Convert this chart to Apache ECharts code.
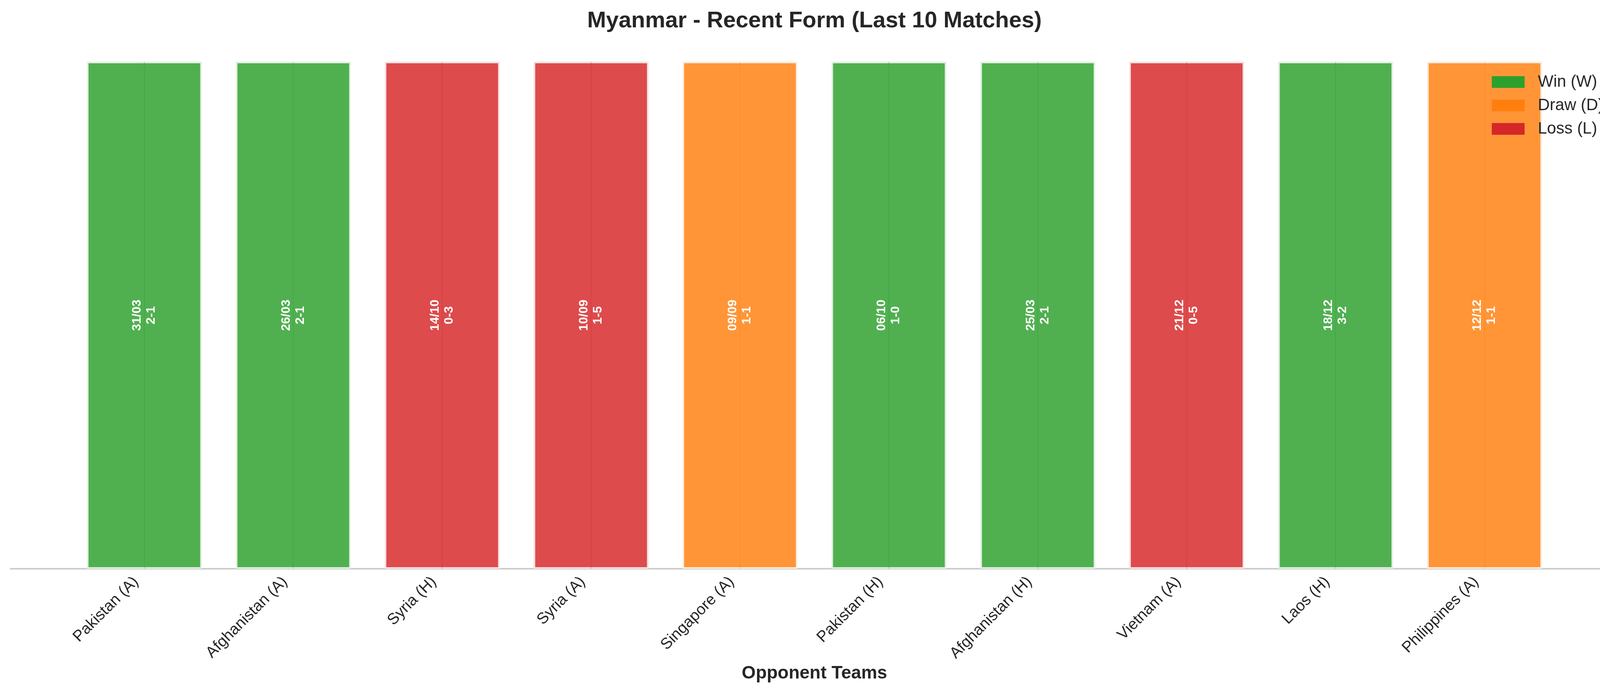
<!DOCTYPE html>
<html>
<head>
<meta charset="utf-8">
<script src="https://cdn.jsdelivr.net/npm/echarts@6/dist/echarts.min.js"></script>
<style>
  html, body { margin: 0; padding: 0; background: #fff; }
  #main-chart { width: 4170px; height: 1769px; }
</style>
</head>
<body>
<div id="main-chart"></div>
<script>
var categories = ['Pakistan (A)', 'Afghanistan (A)', 'Syria (H)', 'Syria (A)', 'Singapore (A)',
                  'Pakistan (H)', 'Afghanistan (H)', 'Vietnam (A)', 'Laos (H)', 'Philippines (A)'];
var results = ['W', 'W', 'L', 'L', 'D', 'W', 'W', 'L', 'W', 'D'];
var dates = ['31/03', '26/03', '14/10', '10/09', '09/09', '06/10', '25/03', '21/12', '18/12', '12/12'];
var scores = ['2-1', '2-1', '0-3', '1-5', '1-1', '1-0', '2-1', '0-5', '3-2', '1-1'];
// every match is drawn as a full-height bar
var barHeights = [1, 1, 1, 1, 1, 1, 1, 1, 1, 1];

var resultNames = {W: 'Win (W)', D: 'Draw (D)', L: 'Loss (L)'};
var baseColors = {W: '#2ca02c', D: '#ff7f0e', L: '#d62728'};
var fillColors = {W: 'rgba(44,160,44,0.83)', D: 'rgba(255,127,14,0.83)', L: 'rgba(214,39,40,0.83)'};
var edgeColors = {W: '#e1f0e1', D: '#fdebdd', L: '#f8e0e0'};
var midColors = {W: 'rgba(44,160,44,0.35)', D: 'rgba(255,127,14,0.35)', L: 'rgba(214,39,40,0.35)'};

var font = 'Liberation Sans, Arial, sans-serif';

var dom = document.getElementById('main-chart');
var myChart = echarts.init(dom);

var series = [];
['W', 'D', 'L'].forEach(function (code) {
    series.push({
        name: resultNames[code],
        type: 'bar',
        stack: 'form',
        xAxisIndex: 0,
        yAxisIndex: 0,
        barWidth: 294,
        data: results.map(function (r, i) { return r === code ? barHeights[i] : '-'; }),
        itemStyle: {
            color: fillColors[code],
            borderColor: edgeColors[code],
            borderWidth: 4
        }
    });
});

// thin darker line in the middle of each bar, carrying the date / score text
series.push({
    name: 'mid',
    type: 'bar',
    xAxisIndex: 1,
    yAxisIndex: 0,
    barWidth: 2,
    data: results.map(function (r, i) {
        return {value: barHeights[i], itemStyle: {color: midColors[r]}};
    }),
    label: {
        show: true,
        position: 'inside',
        rotate: 90,
        formatter: function (p) { return dates[p.dataIndex] + '\n' + scores[p.dataIndex]; },
        color: '#ffffff',
        fontWeight: 'bold',
        fontSize: 32,
        lineHeight: 36,
        fontFamily: font
    },
    z: 3
});

option = {
    animation: false,
    backgroundColor: '#ffffff',
    title: {
        text: 'Myanmar - Recent Form (Last 10 Matches)',
        left: 'center',
        top: 20,
        textStyle: {fontSize: 58, fontWeight: 'bold', color: '#262626', fontFamily: font}
    },
    legend: {
        orient: 'vertical',
        left: 3819,
        top: 189,
        padding: 0,
        itemWidth: 84,
        itemHeight: 30,
        itemGap: 18,
        textStyle: {fontSize: 42, lineHeight: 42, color: '#262626', fontFamily: font, padding: [0, 0, 0, 29]},
        data: ['W', 'D', 'L'].map(function (code) {
            return {name: resultNames[code], icon: 'rect', itemStyle: {color: baseColors[code], borderWidth: 0}};
        })
    },
    grid: [
        {left: 179, width: 3812, top: 158, height: 1298},
        {left: 27, right: 29, top: 158, height: 1298}
    ],
    xAxis: [
        {
            type: 'category',
            gridIndex: 0,
            data: categories,
            axisLine: {show: false},
            axisTick: {show: false},
            axisLabel: {interval: 0, rotate: 45, margin: 6, padding: [0, 30, 0, 0],
                        fontSize: 40, color: '#262626', fontFamily: font},
            name: 'Opponent Teams',
            nameLocation: 'middle',
            nameGap: 230,
            nameTextStyle: {fontSize: 46, fontWeight: 'bold', color: '#262626', fontFamily: font}
        },
        {
            type: 'category',
            gridIndex: 0,
            data: categories,
            show: false
        },
        {
            type: 'value',
            gridIndex: 1,
            min: 0,
            max: 1,
            axisLine: {show: true, lineStyle: {color: '#cccccc', width: 4}},
            axisTick: {show: false},
            axisLabel: {show: false},
            splitLine: {show: false}
        }
    ],
    yAxis: [
        {type: 'value', gridIndex: 0, min: 0, max: 1, show: false},
        {type: 'value', gridIndex: 1, min: 0, max: 1, show: false}
    ],
    series: series
};
myChart.setOption(option, true);
</script>
</body>
</html>
